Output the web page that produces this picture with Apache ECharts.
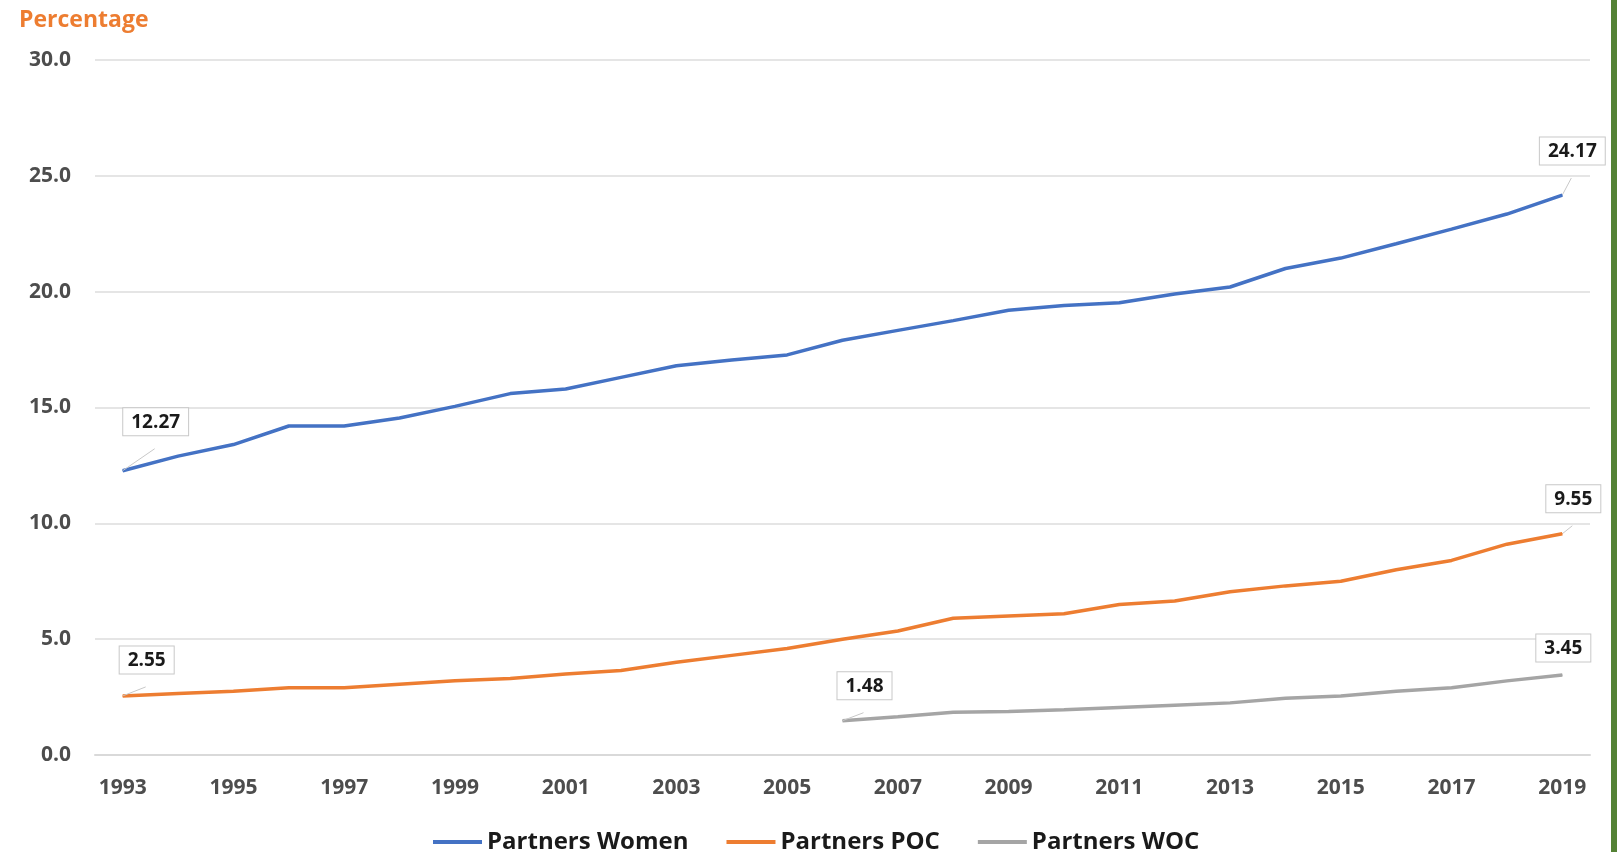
<!DOCTYPE html>
<html>
<head>
<meta charset="utf-8">
<script src="https://cdn.jsdelivr.net/npm/echarts@6/dist/echarts.min.js"></script>
<style>
  html, body { margin: 0; padding: 0; background: #fff; }
  #chart { width: 1611px; height: 852px; border-right: 6px solid #548235; }
</style>
</head>
<body>
<div id="chart"></div>
<script>
const years = ['1993', '1994', '1995', '1996', '1997', '1998', '1999', '2000', '2001',
  '2002', '2003', '2004', '2005', '2006', '2007', '2008', '2009', '2010', '2011', '2012',
  '2013', '2014', '2015', '2016', '2017', '2018', '2019'];

const womenValues = [12.27, 12.9, 13.4, 14.2, 14.2, 14.55, 15.05, 15.6, 15.8, 16.3, 16.8,
  17.05, 17.27, 17.9, 18.33, 18.75, 19.2, 19.4, 19.52, 19.9, 20.2, 21.0, 21.45, 22.07,
  22.7, 23.35, 24.17];

const pocValues = [2.55, 2.65, 2.75, 2.9, 2.9, 3.05, 3.2, 3.3, 3.5, 3.65, 4.0, 4.3, 4.6,
  5.0, 5.35, 5.9, 6.0, 6.1, 6.5, 6.65, 7.05, 7.3, 7.5, 8.0, 8.4, 9.1, 9.55];

const wocValues = [null, null, null, null, null, null, null, null, null, null, null, null,
  null, 1.48, 1.65, 1.85, 1.88, 1.95, 2.05, 2.15, 2.25, 2.45, 2.55, 2.75, 2.9, 3.2, 3.45];

const seriesNames = ['Partners Women', 'Partners POC', 'Partners WOC'];
const seriesColors = ['#4472C4', '#ED7D31', '#A5A5A5'];

const chart = echarts.init(document.getElementById('chart'));

// callout style label for the first and last point of each line
function withCallouts(values, offsets) {
  const first = values.findIndex(v => v !== null);
  const last = values.length - 1;
  return values.map((v, i) => {
    if (v === null) return '-';
    if (i !== first && i !== last) return v;
    const off = i === first ? offsets[0] : offsets[1];
    return {
      value: v,
      label: {
        show: true,
        position: 'top',
        offset: off,
        formatter: p => p.value.toFixed(2),
        fontFamily: 'Open Sans',
        fontWeight: 'bold',
        fontSize: 19,
        color: '#1a1a1a',
        backgroundColor: '#fff',
        borderColor: '#c8c8c8',
        borderWidth: 1,
        padding: [5, 8, 3, 8]
      },
      labelLine: {
        show: true,
        length2: 0,
        lineStyle: { color: '#c8c8c8', width: 1 }
      }
    };
  });
}

function lineSeries(idx, values, offsets) {
  return {
    name: seriesNames[idx],
    type: 'line',
    data: withCallouts(values, offsets),
    symbol: 'circle',
    symbolSize: 1,
    showSymbol: true,
    lineStyle: { color: seriesColors[idx], width: 3.5 },
    itemStyle: { color: seriesColors[idx] },
    z: 3 - idx
  };
}

const option = {
  animation: false,
  title: {
    text: 'Percentage',
    left: 14,
    top: 4,
    textStyle: {
      fontFamily: 'Open Sans',
      fontWeight: 'bold',
      fontSize: 23,
      color: '#ED7D31'
    }
  },
  grid: {
    left: 95,
    right: 21,
    top: 60,
    bottom: 97
  },
  legend: {
    bottom: -7,
    left: 428,
    icon: 'rect',
    itemWidth: 49,
    itemHeight: 4,
    itemGap: 38,
    data: seriesNames,
    textStyle: {
      fontFamily: 'Open Sans',
      fontWeight: 'bold',
      fontSize: 24,
      color: '#1a1a1a'
    }
  },
  xAxis: {
    type: 'category',
    data: years,
    boundaryGap: true,
    axisLine: { lineStyle: { color: '#d9d9d9', width: 2 } },
    axisTick: { show: false },
    axisLabel: {
      interval: 1,
      margin: 23,
      fontFamily: 'Open Sans',
      fontWeight: 'bold',
      fontSize: 21,
      color: '#4d4d4d'
    }
  },
  yAxis: {
    type: 'value',
    min: 0,
    max: 30,
    interval: 5,
    axisLine: { show: false },
    axisTick: { show: false },
    splitLine: { lineStyle: { color: '#dcdcdc', width: 1.5 } },
    axisLabel: {
      margin: 24,
      formatter: v => v.toFixed(1),
      fontFamily: 'Open Sans',
      fontWeight: 'bold',
      fontSize: 21,
      color: '#4d4d4d'
    }
  },
  series: [
    lineSeries(0, womenValues, [[33, -30], [10, -25]]),
    lineSeries(1, pocValues, [[24, -17], [11, -16]]),
    lineSeries(2, wocValues, [[22, -16], [1, -8]])
  ]
};

chart.setOption(option);
</script>
</body>
</html>
